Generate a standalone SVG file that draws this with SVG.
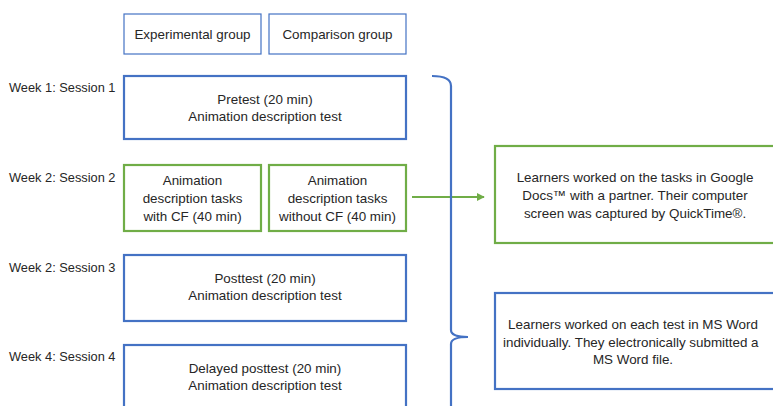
<svg xmlns="http://www.w3.org/2000/svg" width="773" height="406" viewBox="0 0 773 406">
  <style>
    text { font-family: "Liberation Sans", Arial, sans-serif; font-size: 13.4px; fill: #262626; }
    .lbl { font-size: 12.8px; }
    .c { text-anchor: middle; }
    .head { fill: #ffffff; stroke: #4472C4; stroke-width: 1.2; }
    .blue { fill: #ffffff; stroke: #4472C4; stroke-width: 2.2; }
    .green { fill: #ffffff; stroke: #70AD47; stroke-width: 2.2; }
  </style>
  <defs>
    <marker id="arrowGreen" viewBox="0 0 10 10" refX="9" refY="5" markerWidth="4" markerHeight="4" orient="auto">
      <path d="M0,0 L10,5 L0,10 z" fill="#70AD47"/>
    </marker>
  </defs>
  <rect width="773" height="406" fill="#ffffff"/>

  <!-- session labels -->
  <g id="labels">
    <text class="lbl" x="9" y="92">Week 1: Session 1</text>
    <text class="lbl" x="9" y="182">Week 2: Session 2</text>
    <text class="lbl" x="9" y="272">Week 2: Session 3</text>
    <text class="lbl" x="9" y="361">Week 4: Session 4</text>
  </g>

  <g id="experimental-header">
    <rect class="head" x="124" y="14" width="137" height="40"/>
    <text class="c" x="192.5" y="39">Experimental group</text>
  </g>
  <g id="comparison-header">
    <rect class="head" x="269" y="14" width="137" height="40"/>
    <text class="c" x="337.5" y="39">Comparison group</text>
  </g>

  <g id="pretest">
    <rect class="blue" x="124" y="76" width="282" height="63"/>
    <text class="c" x="265" y="104">Pretest (20 min)</text>
    <text class="c" x="265" y="121">Animation description test</text>
  </g>

  <g id="tasks-with-cf">
    <rect class="green" x="124" y="165" width="137" height="66"/>
    <text class="c" x="192.5" y="185">Animation</text>
    <text class="c" x="192.5" y="203">description tasks</text>
    <text class="c" x="192.5" y="221">with CF (40 min)</text>
  </g>
  <g id="tasks-without-cf">
    <rect class="green" x="269" y="165" width="137" height="66"/>
    <text class="c" x="337.5" y="185">Animation</text>
    <text class="c" x="337.5" y="203">description tasks</text>
    <text class="c" x="337.5" y="221">without CF (40 min)</text>
  </g>

  <g id="posttest">
    <rect class="blue" x="124" y="255" width="282" height="66"/>
    <text class="c" x="265" y="283">Posttest (20 min)</text>
    <text class="c" x="265" y="300">Animation description test</text>
  </g>

  <g id="delayed-posttest">
    <rect class="blue" x="124" y="345" width="282" height="70"/>
    <text class="c" x="265" y="373">Delayed posttest (20 min)</text>
    <text class="c" x="265" y="390">Animation description test</text>
  </g>

  <g id="google-docs-note">
    <rect class="green" x="495" y="146" width="290" height="97"/>
    <text class="c" x="635" y="182">Learners worked on the tasks in Google</text>
    <text class="c" x="635" y="200">Docs™ with a partner. Their computer</text>
    <text class="c" x="635" y="218">screen was captured by QuickTime®.</text>
  </g>

  <g id="ms-word-note">
    <rect class="blue" x="495" y="293" width="290" height="96"/>
    <text class="c" x="633" y="329">Learners worked on each test in MS Word</text>
    <text x="503" y="347">individually. They electronically submitted a</text>
    <text class="c" x="633" y="364">MS Word file.</text>
  </g>

  <g id="connectors" fill="none">
    <path d="M412,197 L484,197" stroke="#70AD47" stroke-width="2" marker-end="url(#arrowGreen)"/>
    <path d="M432,76 Q451,76 451,86 L451,330 Q451,337 468,337 Q451,337 451,344 L451,410" stroke="#4472C4" stroke-width="2.2"/>
  </g>
</svg>
